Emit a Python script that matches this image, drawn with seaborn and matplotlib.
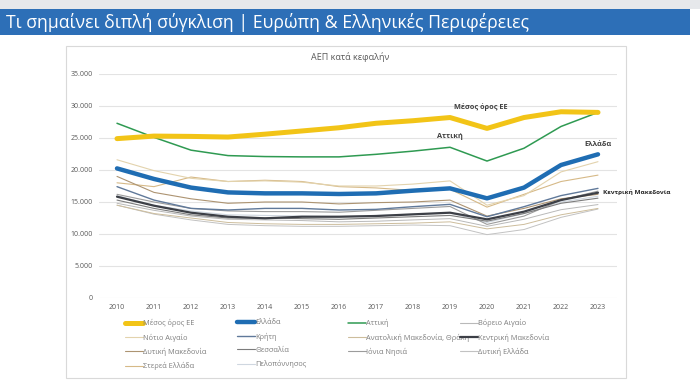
import matplotlib
matplotlib.use("Agg")
import matplotlib.pyplot as plt
import seaborn as sns
import pandas as pd
from matplotlib.ticker import FuncFormatter
from matplotlib.lines import Line2D
from matplotlib.patches import Rectangle

years = list(range(2010, 2024))

eu_avg = [24900, 25300, 25250, 25150, 25600, 26100, 26600, 27300, 27700, 28200, 26500, 28200, 29100, 29000]
ellada = [20250, 18600, 17250, 16500, 16350, 16350, 16250, 16350, 16770, 17130, 15570, 17250, 20780, 22450]
attiki = [27300, 25100, 23100, 22250, 22100, 22050, 22050, 22450, 22950, 23550, 21400, 23400, 26800, 29000]
voreio_aigaio = [14800, 13700, 12800, 12300, 12200, 12100, 11900, 12000, 12200, 12400, 11200, 12300, 13800, 14600]
notio_aigaio = [21600, 19900, 18700, 18200, 18300, 18100, 17500, 17500, 17800, 18300, 14500, 16000, 19700, 21300]
kriti = [17400, 15300, 14000, 13750, 14000, 14000, 13750, 13850, 14270, 14630, 12700, 14270, 16000, 17130]
anat_mak_thraki = [14500, 13200, 12500, 11800, 11600, 11500, 11500, 11600, 11700, 11900, 10800, 11500, 13000, 14000]
kentr_makedonia = [15830, 14420, 13330, 12700, 12450, 12700, 12700, 12810, 13070, 13330, 12290, 13490, 15300, 16450]
dytiki_makedonia = [19000, 16500, 15500, 14800, 15000, 15000, 14700, 14900, 15000, 15300, 12800, 14000, 15500, 16200]
thessalia = [15300, 14000, 13000, 12500, 12500, 12400, 12300, 12500, 12700, 12900, 12000, 13200, 14800, 15600]
ionia_nisia = [16200, 15000, 14000, 13600, 13500, 13500, 13400, 13700, 14000, 14300, 11500, 12800, 15300, 16700]
dytiki_ellada = [14500, 13100, 12200, 11500, 11300, 11200, 11200, 11300, 11400, 11300, 9900, 10700, 12600, 13900]
sterea_ellada = [18000, 17400, 18900, 18200, 18400, 18200, 17400, 17200, 16800, 17000, 14200, 16200, 18200, 19200]
peloponnisos = [16000, 14500, 13600, 13000, 12900, 12800, 12700, 12900, 13100, 13300, 11800, 13200, 15000, 15900]

series_names = ["Μέσος όρος ΕΕ", "Ελλάδα", "Αττική", "Βόρειο Αιγαίο", "Νότιο Αιγαίο", "Κρήτη",
                "Ανατολική Μακεδονία, Θράκη", "Κεντρική Μακεδονία", "Δυτική Μακεδονία", "Θεσσαλία",
                "Ιόνια Νησιά", "Δυτική Ελλάδα", "Στερεά Ελλάδα", "Πελοπόννησος"]
series_values = [eu_avg, ellada, attiki, voreio_aigaio, notio_aigaio, kriti, anat_mak_thraki,
                 kentr_makedonia, dytiki_makedonia, thessalia, ionia_nisia, dytiki_ellada,
                 sterea_ellada, peloponnisos]

styles = {
    "Μέσος όρος ΕΕ": ("#f2c417", 3.6),
    "Ελλάδα": ("#1f6db3", 3.2),
    "Αττική": ("#2f9a52", 1.1),
    "Βόρειο Αιγαίο": ("#b9b9b9", 0.7),
    "Νότιο Αιγαίο": ("#e3d3ad", 0.8),
    "Κρήτη": ("#60799a", 1.0),
    "Ανατολική Μακεδονία, Θράκη": ("#cdbd9c", 0.7),
    "Κεντρική Μακεδονία": ("#3c3f46", 1.6),
    "Δυτική Μακεδονία": ("#ad9472", 0.8),
    "Θεσσαλία": ("#7c7c7c", 0.8),
    "Ιόνια Νησιά": ("#9c9c9c", 0.8),
    "Δυτική Ελλάδα": ("#c2c2c2", 0.7),
    "Στερεά Ελλάδα": ("#d6b987", 0.8),
    "Πελοπόννησος": ("#cfd7e0", 0.8),
}

sns.set_theme(style="white")
plt.rcParams["font.family"] = ["Open Sans", "DejaVu Sans"]

fig = plt.figure(figsize=(7, 3.83), dpi=100)
fig.patch.set_facecolor("white")

# top gray strip and title band
fig.add_artist(Rectangle((0, 1 - 9 / 383), 1, 9 / 383, transform=fig.transFigure,
                         facecolor="#e6e8eb", edgecolor="none", zorder=0))
fig.add_artist(Rectangle((0, 1 - 35 / 383), 690 / 700, 26 / 383, transform=fig.transFigure,
                         facecolor="#2d6fb7", edgecolor="none", zorder=1))
fig.text(6 / 700, 1 - 22 / 383, "Τι σημαίνει διπλή σύγκλιση | Ευρώπη & Ελληνικές Περιφέρειες",
         color="white", fontsize=12.7, va="center", ha="left", zorder=2)

# chart panel
fig.add_artist(Rectangle((66 / 700, 1 - 378 / 383), (626 - 66) / 700, (378 - 46) / 383,
                         transform=fig.transFigure, facecolor="white", edgecolor="#d9d9d9",
                         linewidth=0.8, zorder=0))
fig.text(350 / 700, 1 - 57 / 383, "ΑΕΠ κατά κεφαλήν", ha="center", va="center",
         fontsize=6.5, color="#595959")

ax = fig.add_axes([98.5 / 700, 1 - 298 / 383, (616.5 - 98.5) / 700, (298 - 74) / 383])
ax.set_facecolor("none")

draw_order = ["Πελοπόννησος", "Δυτική Ελλάδα", "Βόρειο Αιγαίο", "Ανατολική Μακεδονία, Θράκη",
              "Ιόνια Νησιά", "Θεσσαλία", "Στερεά Ελλάδα", "Δυτική Μακεδονία", "Νότιο Αιγαίο",
              "Κρήτη", "Κεντρική Μακεδονία", "Αττική", "Ελλάδα", "Μέσος όρος ΕΕ"]
data = {n: v for n, v in zip(series_names, series_values)}
for name in draw_order:
    col, lw = styles[name]
    df = pd.DataFrame({"year": years, "value": data[name]})
    sns.lineplot(data=df, x="year", y="value", ax=ax, color=col, linewidth=lw,
                 solid_capstyle="round", solid_joinstyle="round", legend=False)

ax.set_xlim(2009.5, 2023.5)
ax.set_ylim(0, 35000)
ax.set_xticks(years)
ax.set_yticks(range(0, 35001, 5000))
ax.yaxis.set_major_formatter(FuncFormatter(lambda v, p: f"{int(v):,}".replace(",", ".")))
ax.tick_params(axis="both", labelsize=5.0, colors="#595959", length=0, pad=4)
ax.grid(axis="y", color="#e3e3e3", linewidth=0.8)
ax.set_axisbelow(True)
for s in ax.spines.values():
    s.set_visible(False)
ax.set_xlabel("")
ax.set_ylabel("")

# annotations
ax.text(2019.84, 29900, "Μέσος όρος ΕΕ", ha="center", va="center", fontsize=5.3,
        fontweight="bold", color="#404040")
ax.text(2019.0, 25200, "Αττική", ha="center", va="center", fontsize=5.3,
        fontweight="bold", color="#404040")
ax.text(2023.0, 24060, "Ελλάδα", ha="center", va="center", fontsize=5.3,
        fontweight="bold", color="#404040")
ax.text(2023.13, 16560, "Κεντρική Μακεδονία", ha="left", va="center", fontsize=4.6,
        fontweight="bold", color="#262626", clip_on=False)

# legend: 4 columns, row-major order
legend_rows = [series_names[0:4], series_names[4:8], series_names[8:12], series_names[12:14]]
col_x = [125, 237, 348, 460]
for c in range(4):
    names = [row[c] for row in legend_rows if c < len(row)]
    handles = []
    for n in names:
        col, lw = styles[n]
        handles.append(Line2D([0], [0], color=col, linewidth=max(lw, 0.8)))
    fig.legend(handles, names, loc="upper left", bbox_to_anchor=(col_x[c] / 700, 1 - 319 / 383),
               frameon=False, fontsize=5.3, handlelength=2.4, handletextpad=0.1,
               labelspacing=0.85, borderpad=0, borderaxespad=0, labelcolor="#7f7f7f")

fig.savefig("out.png", dpi=100)
